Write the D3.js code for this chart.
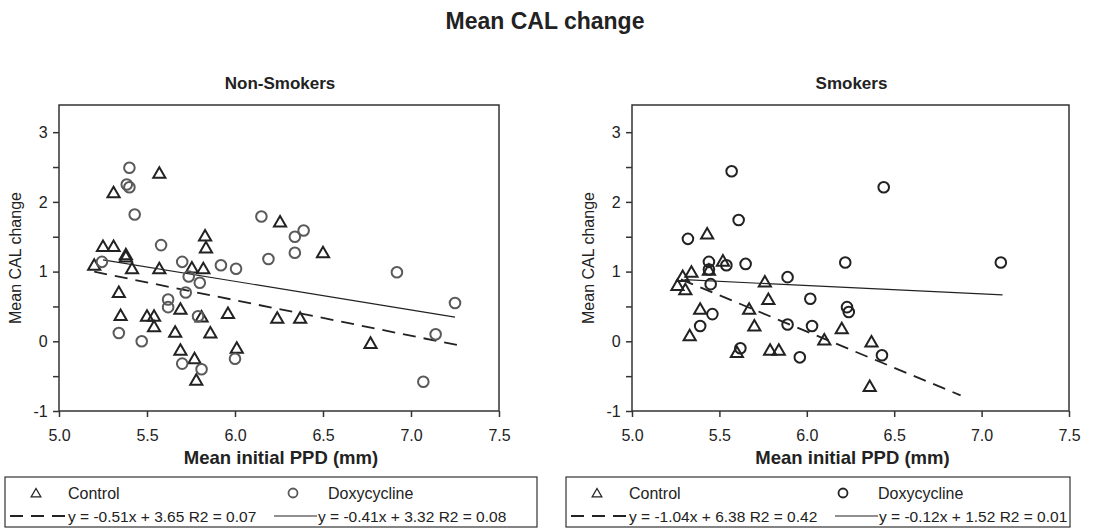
<!DOCTYPE html>
<html>
<head>
<meta charset="utf-8">
<script src="https://cdn.jsdelivr.net/npm/d3@7"></script>
<style>
  body { margin: 0; background: #fff; }
  text { font-family: "Liberation Sans", Arial, sans-serif; fill: #222; }
</style>
</head>
<body>
<script>
// Non-smokers
var nsControlX = [5.20, 5.25, 5.31, 5.31, 5.38, 5.38, 5.415, 5.34, 5.57, 5.57, 5.83, 5.835, 5.755, 5.82, 6.256, 6.50,
  5.35, 5.50, 5.54, 5.54, 5.69, 5.66, 5.69, 5.77, 5.78, 5.81, 5.86, 5.96, 6.01, 6.24, 6.37, 6.77];
var nsControlY = [1.09, 1.36, 1.36, 2.13, 1.24, 1.21, 1.04, 0.70, 2.41, 1.04, 1.51, 1.34, 1.05, 1.04, 1.71, 1.27,
  0.37, 0.36, 0.36, 0.21, 0.46, 0.13, -0.13, -0.25, -0.56, 0.35, 0.12, 0.40, -0.10, 0.33, 0.33, -0.03];
var nsDoxyX = [5.40, 5.385, 5.40, 5.43, 5.244, 5.58, 5.70, 5.737, 5.80, 5.72, 5.62, 5.62, 5.92, 6.006, 6.15, 6.19,
  6.34, 6.34, 6.39, 6.92, 7.25, 5.34, 5.47, 5.79, 5.70, 5.81, 6.00, 7.07, 7.14];
var nsDoxyY = [2.49, 2.25, 2.21, 1.82, 1.14, 1.38, 1.14, 0.93, 0.84, 0.70, 0.60, 0.49, 1.09, 1.04, 1.79, 1.18,
  1.50, 1.27, 1.59, 0.99, 0.55, 0.12, 0.0, 0.36, -0.32, -0.40, -0.25, -0.58, 0.10];

// Smokers
var smControlX = [5.43, 5.52, 5.34, 5.29, 5.26, 5.305, 5.44, 5.76, 5.78, 5.39, 5.67, 5.70, 5.33, 5.60, 5.79, 5.84,
  6.10, 6.20, 6.37, 6.36];
var smControlY = [1.54, 1.15, 0.99, 0.93, 0.80, 0.74, 1.02, 0.85, 0.60, 0.46, 0.46, 0.22, 0.08, -0.16, -0.13, -0.13,
  0.02, 0.18, -0.01, -0.65];
var smDoxyX = [5.57, 5.61, 5.32, 5.44, 5.44, 5.54, 5.65, 5.89, 5.45, 6.02, 6.44, 6.22, 7.11, 6.23, 5.46, 5.39,
  5.62, 5.89, 6.03, 5.96, 6.24, 6.43];
var smDoxyY = [2.44, 1.74, 1.47, 1.14, 1.03, 1.09, 1.11, 0.92, 0.82, 0.61, 2.21, 1.13, 1.13, 0.49, 0.39, 0.22,
  -0.10, 0.24, 0.22, -0.23, 0.42, -0.20];

// Regression lines: slope, intercept, x start, x end
var nsControlFit = [-0.51, 3.65, 5.20, 7.27];
var nsDoxyFit = [-0.41, 3.32, 5.25, 7.25];
var smControlFit = [-1.04, 6.38, 5.28, 6.88];
var smDoxyFit = [-0.12, 1.52, 5.30, 7.12];

var nsControlLabel = "y = -0.51x + 3.65 R2 = 0.07";
var nsDoxyLabel = "y = -0.41x + 3.32 R2 = 0.08";
var smControlLabel = "y = -1.04x + 6.38 R2 = 0.42";
var smDoxyLabel = "y = -0.12x + 1.52 R2 = 0.01";

var xTicks = [5.0, 5.5, 6.0, 6.5, 7.0, 7.5];
var yTicks = [-1, -0.5, 0, 0.5, 1, 1.5, 2, 2.5, 3];

var W = 1093, H = 528;
var svg = d3.select("body").append("svg")
  .attr("width", W).attr("height", H);

svg.append("text")
  .attr("x", 545).attr("y", 29)
  .attr("text-anchor", "middle")
  .style("font-size", "23px").style("font-weight", "bold")
  .text("Mean CAL change");

function zip(xs, ys) {
  return xs.map(function(x, i) { return {x: x, y: ys[i]}; });
}

var tri = d3.symbol().type(d3.symbolTriangle).size(64);

function panel(opts) {
  var x = d3.scaleLinear().domain([5, 7.5]).range([opts.left, opts.right]);
  var y = d3.scaleLinear().domain([-1, 3.39]).range([411, 105]);
  var g = svg.append("g");

  g.append("text")
    .attr("x", (opts.left + opts.right) / 2 + 1).attr("y", 89)
    .attr("text-anchor", "middle")
    .style("font-size", "17px").style("font-weight", "bold")
    .text(opts.title);

  // frame
  g.append("rect")
    .attr("x", opts.left).attr("y", 105)
    .attr("width", opts.right - opts.left).attr("height", 306)
    .attr("fill", "none").attr("stroke", "#333").attr("stroke-width", 1.5);

  var xaxis = g.append("g")
    .attr("transform", "translate(0,411)")
    .call(d3.axisBottom(x).tickValues(xTicks).tickSize(6).tickFormat(d3.format(".1f")));
  var yaxis = g.append("g")
    .attr("transform", "translate(" + opts.left + ",0)")
    .call(d3.axisLeft(y).tickValues(yTicks).tickSize(6)
      .tickFormat(function(d) { return Number.isInteger(d) ? d : ""; }));
  [xaxis, yaxis].forEach(function(a) {
    a.select(".domain").remove();
    a.selectAll("line").attr("stroke", "#333").attr("stroke-width", 1.5);
    a.selectAll("text").style("font-size", "16px").attr("fill", "#222");
  });
  xaxis.selectAll("text").attr("y", 19);
  yaxis.selectAll("text").attr("dx", "-0.15em");

  g.append("text")
    .attr("x", (opts.left + opts.right) / 2 + 2).attr("y", 464)
    .attr("text-anchor", "middle")
    .style("font-size", "18.5px").style("font-weight", "bold")
    .text("Mean initial PPD (mm)");

  g.append("text")
    .attr("transform", "translate(" + (opts.left - 38) + ",258) rotate(-90)")
    .attr("text-anchor", "middle")
    .style("font-size", "16px")
    .text("Mean CAL change");

  // regression lines
  function fitLine(f, dash) {
    g.append("line")
      .attr("x1", x(f[2])).attr("y1", y(f[0] * f[2] + f[1]))
      .attr("x2", x(f[3])).attr("y2", y(f[0] * f[3] + f[1]))
      .attr("stroke", "#222").attr("stroke-width", dash ? 1.8 : 1.2)
      .attr("stroke-dasharray", dash ? "13,8" : null);
  }
  fitLine(opts.controlFit, true);
  fitLine(opts.doxyFit, false);

  g.selectAll(".tri").data(zip(opts.cx, opts.cy)).enter().append("path")
    .attr("d", tri)
    .attr("transform", function(d) { return "translate(" + x(d.x) + "," + (y(d.y) + 1) + ")"; })
    .attr("fill", "none").attr("stroke", "#222").attr("stroke-width", 2);

  g.selectAll(".circ").data(zip(opts.dx, opts.dy)).enter().append("circle")
    .attr("cx", function(d) { return x(d.x); })
    .attr("cy", function(d) { return y(d.y); })
    .attr("r", 5.3)
    .attr("fill", "none").attr("stroke", opts.circColor).attr("stroke-width", 2);

  // legend
  var lg = g.append("g");
  lg.append("rect")
    .attr("x", opts.lgLeft).attr("y", 477)
    .attr("width", opts.lgRight - opts.lgLeft).attr("height", 50)
    .attr("fill", "none").attr("stroke", "#333").attr("stroke-width", 1.2);
  lg.append("path").attr("d", d3.symbol().type(d3.symbolTriangle).size(40)())
    .attr("transform", "translate(" + (opts.lgLeft + 31) + ",494)")
    .attr("fill", "none").attr("stroke", "#222").attr("stroke-width", 1.3);
  lg.append("text").attr("x", opts.lgLeft + 63).attr("y", 499)
    .style("font-size", "16px").text("Control");
  lg.append("circle").attr("cx", opts.lgLeft + opts.doxyStart - 35).attr("cy", 493).attr("r", 4.5)
    .attr("fill", "none").attr("stroke", opts.circColor).attr("stroke-width", 1.8);
  lg.append("text").attr("x", opts.lgLeft + opts.doxyStart).attr("y", 499)
    .style("font-size", "16px").text("Doxycycline");

  lg.append("line")
    .attr("x1", opts.lgLeft + 5).attr("x2", opts.lgLeft + 62)
    .attr("y1", 516).attr("y2", 516)
    .attr("stroke", "#222").attr("stroke-width", 2).attr("stroke-dasharray", "13,8");
  lg.append("text").attr("x", opts.lgLeft + 63).attr("y", 522)
    .style("font-size", "15.5px").text(opts.controlLabel);
  lg.append("line")
    .attr("x1", opts.lgLeft + opts.solidStart).attr("x2", opts.lgLeft + opts.solidStart + 43)
    .attr("y1", 516).attr("y2", 516)
    .attr("stroke", "#222").attr("stroke-width", 1.2);
  lg.append("text").attr("x", opts.lgLeft + opts.solidStart + 44).attr("y", 522)
    .style("font-size", "15.5px").text(opts.doxyLabel);
}

panel({
  title: "Non-Smokers", left: 59, right: 499,
  cx: nsControlX, cy: nsControlY, dx: nsDoxyX, dy: nsDoxyY,
  controlFit: nsControlFit, doxyFit: nsDoxyFit,
  circColor: "#5a5a5a",
  lgLeft: 5, lgRight: 537, solidStart: 269, doxyStart: 323,
  controlLabel: nsControlLabel, doxyLabel: nsDoxyLabel
});

panel({
  title: "Smokers", left: 632, right: 1069,
  cx: smControlX, cy: smControlY, dx: smDoxyX, dy: smDoxyY,
  controlFit: smControlFit, doxyFit: smDoxyFit,
  circColor: "#222",
  lgLeft: 566, lgRight: 1070, solidStart: 269, doxyStart: 312,
  controlLabel: smControlLabel, doxyLabel: smDoxyLabel
});
</script>
</body>
</html>
